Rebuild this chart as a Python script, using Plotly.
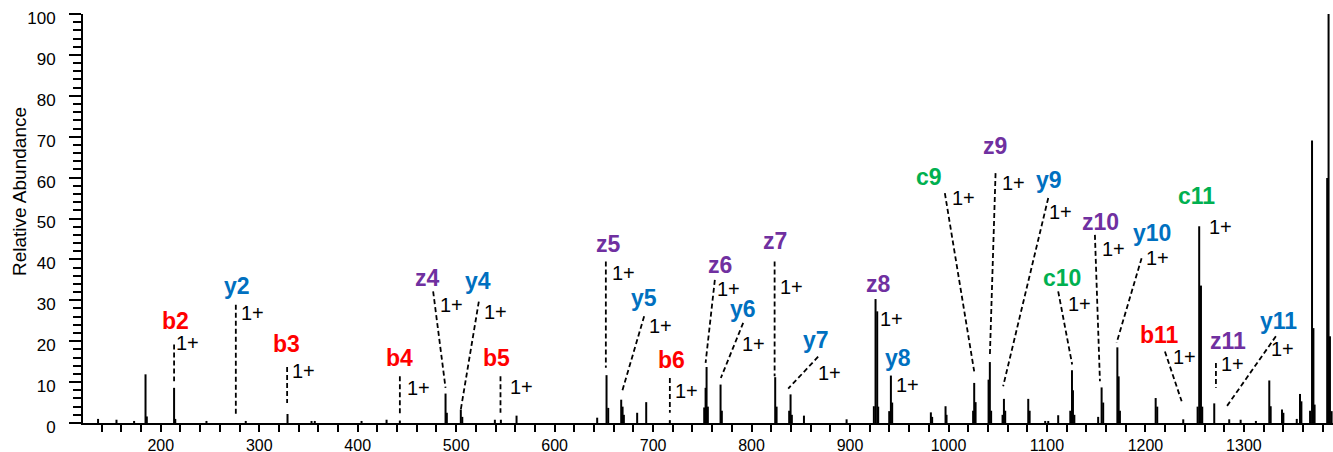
import plotly.graph_objects as go

# Centroided peak list: m/z and relative abundance (%)
mz = [136.3, 155.0, 172.9, 184.5, 185.8, 213.5, 214.7, 246.4, 286.3, 328.7,
      353.1, 356.4, 403.9, 429.3, 442.8, 489.2, 490.5, 504.7, 506.2, 539.3,
      545.4, 561.3, 643.2, 652.7, 654.4, 667.6, 669.0, 670.3, 683.8, 693.0,
      717.0, 751.9, 753.3, 754.3, 755.6, 768.5, 769.8, 824.0, 825.4, 838.2,
      839.6, 840.9, 853.2, 896.5, 924.2, 925.9, 927.6, 928.6, 939.8, 941.5,
      942.8, 982.1, 983.4, 997.0, 998.0, 1025.0, 1026.1, 1027.5, 1040.7, 1042.0,
      1043.3, 1054.9, 1056.3, 1057.6, 1081.0, 1082.4, 1098.2, 1101.3, 1111.4, 1123.7,
      1125.4, 1126.4, 1127.8, 1152.0, 1155.5, 1157.1, 1171.5, 1172.8, 1174.1, 1210.4,
      1212.0, 1238.4, 1253.0, 1254.6, 1256.4, 1257.7, 1269.9, 1285.1, 1296.7, 1312.2,
      1325.8, 1327.2, 1338.7, 1340.1, 1353.7, 1357.0, 1358.4, 1367.2, 1369.2, 1370.6,
      1371.8, 1384.6, 1386.0, 1387.4, 1389.1]
intensity = [1.0, 0.8, 0.5, 11.9, 1.6, 8.6, 1.0, 0.5, 0.5, 2.2,
             0.5, 0.5, 0.5, 0.8, 0.6, 7.2, 2.5, 3.3, 1.5, 0.8,
             0.8, 1.8, 1.3, 11.7, 3.7, 5.7, 4.0, 2.0, 2.5, 5.1,
             0.7, 3.8, 8.6, 13.7, 4.0, 9.4, 3.0, 11.2, 4.0, 3.0,
             7.0, 2.0, 1.8, 0.9, 4.1, 30.3, 27.3, 4.0, 2.9, 11.6,
             5.0, 2.6, 1.5, 4.1, 2.0, 3.0, 9.8, 5.1, 10.6, 14.9,
             3.0, 2.0, 5.9, 3.0, 5.9, 3.0, 0.5, 0.5, 1.9, 3.0,
             12.9, 8.0, 2.0, 1.5, 8.7, 5.0, 18.5, 11.4, 3.0, 6.1,
             4.0, 0.9, 4.0, 48.1, 33.6, 4.0, 4.8, 0.9, 0.8, 0.5,
             10.4, 4.1, 3.3, 2.5, 1.0, 7.1, 5.3, 3.0, 69.1, 23.2,
             4.5, 59.9, 100.0, 21.2, 2.9]

# Assigned fragment ions and their charge states
ions = ["b2", "y2", "b3", "b4", "z4", "y4", "b5", "z5", "y5", "b6",
        "z6", "y6", "z7", "y7", "z8", "y8", "c9", "z9", "y9", "z10",
        "c10", "y10", "c11", "b11", "z11", "y11"]
charges = ["1+"] * len(ions)

# Label placement (m/z, abundance) for ion name and charge text
ion_pos = [(215.0, 25.0), (276.9, 33.6), (327.7, 19.2), (442.8, 15.8), (471.2, 35.5),
           (522.0, 34.6), (541.0, 15.8), (654.5, 43.8), (690.6, 30.6), (719.0, 15.5),
           (767.5, 38.7), (791.2, 27.9), (823.9, 44.6), (865.6, 20.4), (929.0, 34.1),
           (949.1, 16.0), (979.9, 60.2), (1046.9, 67.8), (1102.2, 59.5), (1154.0, 49.2),
           (1115.7, 35.5), (1207.1, 46.5), (1251.6, 55.6), (1213.9, 21.6), (1284.1, 20.1),
           (1334.9, 25.0)]
charge_pos = [(226.9, 19.6), (293.2, 26.9), (345.0, 12.6), (461.9, 8.6), (495.3, 28.9),
              (539.6, 27.1), (566.4, 8.8), (670.1, 36.6), (707.4, 23.6), (734.0, 7.8),
              (776.7, 32.8), (801.6, 19.4), (840.2, 33.2), (878.7, 12.3), (942.5, 25.5),
              (958.2, 9.4), (1014.9, 54.9), (1066.2, 58.7), (1114.0, 51.5), (1167.8, 42.6),
              (1133.0, 29.1), (1212.2, 40.3), (1276.5, 47.9), (1239.3, 16.1), (1288.7, 14.5),
              (1339.5, 18.1)]
# Dashed leader lines: (m/z top, abundance top, m/z bottom, abundance bottom)
leaders = {
    "b2": (213.5, 19.2, 213.5, 10.2),
    "y2": (276.2, 28.9, 276.2, 2.1),
    "b3": (328.3, 13.7, 328.3, 4.9),
    "b4": (442.8, 11.4, 442.8, 1.7),
    "z4": (476.6, 32.2, 489.2, 8.6),
    "y4": (523.0, 29.7, 504.7, 3.3),
    "b5": (545.0, 11.4, 545.0, 2.5),
    "z5": (652.0, 39.5, 652.0, 13.5),
    "y5": (690.9, 26.1, 668.6, 7.8),
    "b6": (717.0, 11.0, 717.0, 2.5),
    "z6": (762.7, 35.0, 753.3, 14.7),
    "y6": (791.5, 24.5, 768.8, 11.0),
    "z7": (823.4, 39.5, 823.4, 11.4),
    "y7": (867.6, 16.2, 837.2, 8.4),
    "c9": (996.3, 56.2, 1026.1, 12.6),
    "z9": (1047.8, 61.1, 1042.0, 16.3),
    "y9": (1101.3, 55.0, 1055.5, 9.0),
    "z10": (1148.7, 46.0, 1153.8, 10.2),
    "c10": (1111.4, 32.2, 1125.6, 14.3),
    "y10": (1196.1, 40.3, 1170.7, 19.6),
    "b11": (1219.8, 17.5, 1236.8, 5.3),
    "z11": (1271.6, 14.7, 1271.6, 8.6),
    "y11": (1332.5, 21.2, 1282.4, 4.0),
}

ION_COLORS = {"b": "#FF0000", "y": "#0070C0", "z": "#7030A0", "c": "#00B050"}
FONT = "Liberation Sans, Arial, sans-serif"

# Stick spectrum: one polyline with gaps between peaks
xs, ys = [], []
for m, h in zip(mz, intensity):
    xs += [m, m, None]
    ys += [0, h, None]

fig = go.Figure(go.Scatter(x=xs, y=ys, mode="lines",
                           line=dict(color="black", width=2),
                           hoverinfo="skip", showlegend=False))

shapes = []
for name, (x0, y0, x1, y1) in leaders.items():
    shapes.append(dict(type="line", xref="x", yref="y", x0=x0, y0=y0, x1=x1, y1=y1,
                       line=dict(color="black", width=1.8, dash="5px,3px")))

annotations = []
for name, z, (lx, ly), (cx, cy) in zip(ions, charges, ion_pos, charge_pos):
    annotations.append(dict(x=lx, y=ly, xref="x", yref="y", text=name, showarrow=False,
                            xanchor="center", yanchor="middle",
                            font=dict(family=FONT, size=23, color=ION_COLORS[name[0]],
                                      weight="bold")))
    annotations.append(dict(x=cx, y=cy, xref="x", yref="y", text=z, showarrow=False,
                            xanchor="center", yanchor="middle",
                            font=dict(family=FONT, size=20, color="black")))

MARGIN_L, MARGIN_T, MARGIN_B = 83, 14, 29
W, H = 1333, 452
plot_w = W - MARGIN_L
plot_h = H - MARGIN_T - MARGIN_B

# y-axis title placed by pixel position, converted to paper fractions
annotations.append(dict(x=(19 - MARGIN_L) / plot_w, y=(H - MARGIN_B - 192) / plot_h,
                        xref="paper", yref="paper", text="Relative Abundance",
                        showarrow=False, textangle=-90, xanchor="center", yanchor="middle",
                        font=dict(family=FONT, size=19, color="black")))

fig.update_layout(
    width=W, height=H,
    margin=dict(l=MARGIN_L, r=0, t=MARGIN_T, b=MARGIN_B, autoexpand=False),
    paper_bgcolor="white", plot_bgcolor="white",
    font=dict(family=FONT, size=17, color="black"),
    shapes=shapes, annotations=annotations,
    hovermode=False,
    xaxis=dict(range=[121, 1390.5], showgrid=False, zeroline=False, automargin=False,
               showline=True, linecolor="black", linewidth=2,
               ticks="outside", ticklen=7, tickwidth=2, tickcolor="black",
               tick0=0, dtick=100, ticklabelstandoff=0,
               tickfont=dict(family=FONT, size=16, color="black"),
               minor=dict(ticks="outside", dtick=20, ticklen=7, tickwidth=2,
                          tickcolor="black")),
    yaxis=dict(range=[0, 100], showgrid=False, zeroline=False, automargin=False,
               showline=True, linecolor="black", linewidth=2,
               ticks="outside", ticklen=12, tickwidth=2, tickcolor="black",
               tick0=0, dtick=10, ticklabelstandoff=10, ticklabelshift=4,
               minor=dict(ticks="outside", dtick=2, ticklen=8, tickwidth=2,
                          tickcolor="black")),
)

fig.write_html("out.html", config={"displayModeBar": False})
